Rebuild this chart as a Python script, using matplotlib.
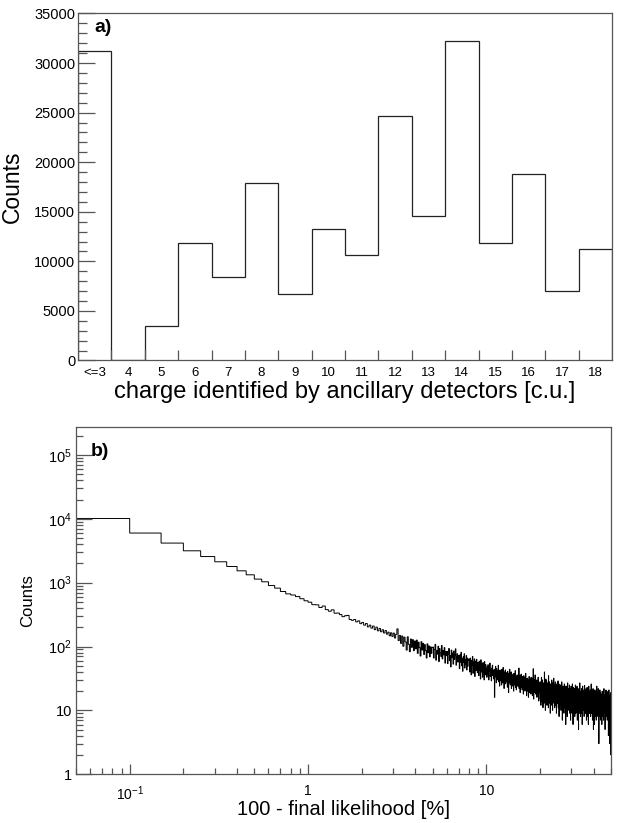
import numpy as np
import matplotlib
matplotlib.use("Agg")
import matplotlib.pyplot as plt
from matplotlib.ticker import FixedLocator, MultipleLocator, FuncFormatter, NullFormatter

plt.rcParams['font.family'] = ['Liberation Sans', 'DejaVu Sans']
plt.rcParams['mathtext.fontset'] = 'custom'
plt.rcParams['mathtext.rm'] = 'Liberation Sans'
plt.rcParams['mathtext.it'] = 'Liberation Sans:italic'
plt.rcParams['mathtext.bf'] = 'Liberation Sans:bold'

# ---------------- panel a data ----------------
charge_labels = ['<=3', '4', '5', '6', '7', '8', '9', '10', '11', '12',
                 '13', '14', '15', '16', '17', '18']
charge_counts = [31190, 0, 3480, 11820, 8390, 17870, 6680, 13230, 10610,
                 24690, 14580, 32230, 11880, 18810, 7040, 11280]

# ---------------- panel b data ----------------
lik_first_edge = 0.05
lik_bin_width = 0.05
lik_counts_0_1 = [10100, 5970, 4160, 3150, 2560, 2120, 1790, 1530, 1325, 1135,
                  1030, 900, 820, 726, 667, 640, 605, 560, 520]
lik_counts_1_2 = [494, 452, 449, 408, 430, 378, 357, 375, 332, 334,
                  316, 293, 303, 307, 265, 257, 265, 243, 252, 228]
lik_counts_2_3 = [238, 216, 229, 203, 216, 194, 209, 184, 201, 176,
                  192, 170, 183, 163, 178, 156, 168, 147, 164, 144]
lik_counts_3_5 = [162, 136, 155, 189, 124, 149, 112, 146, 101, 140,
                  118, 88, 142, 108, 83, 131, 97, 128, 86, 122,
                  92, 126, 78, 117, 96, 71, 119, 88, 112, 75,
                  107, 86, 66, 110, 80, 102, 69, 99, 78, 96]
lik_counts_5_10 = [98, 66, 90, 108, 61, 87, 76, 101, 58, 93, 80, 70, 104, 64, 86, 74, 96, 55, 84, 72,
                   84, 54, 75, 93, 60, 72, 48, 88, 67, 79, 53, 85, 63, 74, 92, 51, 69, 77, 57, 72,
                   71, 45, 74, 57, 81, 50, 65, 41, 69, 56, 77, 46, 63, 53, 72, 43, 66, 49, 60, 64,
                   60, 40, 66, 48, 36, 61, 51, 70, 38, 57, 45, 64, 34, 53, 59, 42, 63, 47, 39, 56,
                   53, 35, 59, 42, 49, 31, 62, 40, 53, 45, 33, 56, 39, 50, 30, 58, 43, 36, 52, 42]
lik_counts_10_20 = [45, 33, 48, 39, 52, 36, 30, 47, 41, 55, 34, 43, 38, 29, 46, 40, 51, 35, 42, 37,
                    31, 44, 16, 40, 36, 49, 33, 27, 45, 38, 30, 42, 35, 51, 28, 39, 34, 24, 43, 37,
                    29, 41, 36, 25, 44, 33, 38, 27, 47, 31, 35, 22, 40, 34, 30, 43, 26, 37, 32, 39,
                    28, 36, 23, 41, 31, 34, 19, 38, 30, 27, 44, 33, 25, 35, 29, 40, 22, 32, 37, 26,
                    31, 24, 35, 28, 20, 38, 27, 33, 25, 30, 42, 23, 29, 34, 21, 32, 27, 36, 24, 30,
                    26, 33, 24, 30, 46, 22, 31, 27, 35, 19, 28, 32, 25, 37, 23, 29, 26, 21, 34, 28,
                    24, 31, 18, 28, 35, 22, 27, 25, 33, 20, 29, 26, 38, 21, 24, 30, 17, 27, 32, 23,
                    27, 20, 30, 24, 16, 29, 23, 34, 21, 26, 19, 31, 25, 22, 28, 18, 33, 24, 21, 27,
                    22, 29, 17, 25, 32, 20, 45, 27, 15, 26, 23, 30, 19, 28, 21, 36, 23, 18, 25, 22,
                    26, 19, 23, 30, 16, 24, 21, 27, 18, 25, 33, 20, 22, 14, 28, 23, 19, 26, 21, 24]
lik_counts_20_35 = [23, 15, 28, 19, 12, 26, 21, 33, 17, 24, 14, 22, 30, 18, 25, 11, 20, 27, 16, 22,
                    18, 24, 13, 40, 20, 16, 27, 22, 10, 25, 19, 31, 15, 21, 17, 29, 23, 12, 26, 19,
                    21, 14, 27, 18, 24, 11, 35, 20, 16, 23, 19, 28, 13, 22, 17, 25, 9, 21, 26, 15,
                    19, 25, 12, 22, 16, 30, 18, 14, 24, 20, 10, 27, 17, 21, 13, 23, 19, 32, 15, 18,
                    16, 22, 19, 11, 25, 17, 14, 28, 20, 12, 23, 18, 15, 26, 9, 21, 17, 24, 13, 19,
                    20, 13, 24, 16, 29, 18, 11, 22, 15, 19, 26, 8, 17, 23, 14, 21, 18, 12, 25, 16,
                    14, 21, 17, 25, 10, 19, 16, 23, 13, 28, 18, 15, 20, 7, 22, 17, 12, 24, 16, 19,
                    18, 12, 22, 15, 9, 20, 17, 26, 14, 16, 21, 11, 19, 24, 13, 18, 15, 6, 23, 17,
                    13, 19, 16, 24, 11, 17, 14, 21, 8, 18, 15, 27, 12, 20, 16, 10, 22, 14, 19, 13,
                    17, 11, 20, 14, 25, 12, 16, 9, 19, 15, 22, 13, 18, 7, 21, 14, 16, 24, 10, 15,
                    12, 18, 15, 21, 9, 16, 13, 26, 14, 19, 11, 17, 6, 20, 15, 12, 23, 16, 10, 18,
                    16, 10, 19, 13, 22, 15, 8, 17, 14, 20, 12, 25, 11, 16, 18, 9, 21, 13, 15, 17,
                    14, 19, 11, 16, 24, 12, 15, 7, 18, 13, 20, 10, 17, 14, 22, 11, 16, 5, 19, 13,
                    15, 11, 18, 13, 21, 9, 16, 14, 27, 12, 17, 10, 19, 15, 8, 20, 13, 16, 11, 18,
                    12, 17, 14, 9, 22, 13, 16, 11, 19, 6, 15, 18, 12, 24, 14, 10, 17, 13, 20, 15]
lik_counts_35_50 = [16, 10, 19, 13, 11, 21, 14, 8, 17, 15, 12, 25, 13, 18, 9, 16, 14, 20, 11, 13,
                    14, 18, 9, 15, 12, 22, 13, 16, 7, 19, 11, 14, 17, 10, 23, 13, 15, 8, 18, 12,
                    11, 16, 13, 20, 10, 14, 6, 17, 12, 15, 24, 11, 13, 18, 9, 16, 14, 10, 19, 12,
                    15, 9, 18, 12, 14, 21, 10, 13, 16, 8, 19, 12, 15, 11, 26, 13, 9, 17, 14, 11,
                    13, 17, 10, 14, 20, 11, 15, 7, 16, 12, 18, 9, 14, 22, 11, 13, 16, 5, 15, 12,
                    10, 15, 13, 19, 9, 14, 12, 17, 6, 13, 16, 11, 21, 12, 8, 15, 14, 18, 10, 13,
                    14, 9, 16, 12, 20, 11, 13, 7, 15, 17, 10, 13, 24, 12, 9, 16, 11, 14, 19, 10,
                    12, 16, 10, 14, 8, 18, 13, 11, 15, 22, 9, 12, 16, 10, 14, 3, 17, 12, 13, 15,
                    9, 14, 12, 17, 11, 13, 21, 10, 15, 8, 12, 16, 11, 19, 13, 7, 14, 12, 10, 16,
                    13, 10, 15, 11, 18, 9, 12, 14, 6, 16, 11, 13, 20, 10, 15, 12, 8, 17, 11, 14,
                    11, 15, 9, 13, 12, 19, 10, 14, 7, 16, 12, 11, 22, 13, 9, 15, 10, 18, 12, 11,
                    14, 9, 12, 16, 10, 13, 5, 15, 11, 18, 12, 10, 14, 8, 17, 11, 13, 21, 10, 12,
                    10, 13, 17, 9, 12, 11, 15, 8, 14, 20, 11, 13, 7, 16, 10, 12, 18, 9, 14, 11,
                    12, 8, 15, 11, 19, 10, 13, 4, 14, 12, 16, 9, 11, 21, 13, 10, 15, 7, 12, 14,
                    11, 14, 9, 17, 12, 3, 13, 10, 16, 8, 12, 15, 11, 19, 10, 2, 13, 17, 9, 12]

lik_counts = np.array(lik_counts_0_1 + lik_counts_1_2 + lik_counts_2_3 + lik_counts_3_5
                      + lik_counts_5_10 + lik_counts_10_20 + lik_counts_20_35
                      + lik_counts_35_50, dtype=float)
lik_edges = lik_first_edge + lik_bin_width * np.arange(len(lik_counts) + 1)

AX_COLOR = '#555555'
LINE_COLOR = '#222222'

fig = plt.figure(figsize=(6.25, 8.23), dpi=100)
fig.patch.set_facecolor('white')

# ---------------- panel a ----------------
axa = fig.add_axes([0.1248, 0.5620, 0.8544, 0.4216])
edges_a = np.arange(len(charge_counts) + 1)
axa.stairs(charge_counts, edges_a, baseline=0, color=LINE_COLOR, lw=0.9)
axa.set_xlim(0, len(charge_counts))
axa.set_ylim(0, 35000)
axa.set_xticks(np.arange(len(charge_counts)) + 0.5)
axa.set_xticklabels(charge_labels)
axa.xaxis.set_minor_locator(FixedLocator(np.arange(1, len(charge_counts))))
axa.tick_params(axis='x', which='major', length=0, pad=5, labelsize=9.5)
axa.tick_params(axis='x', which='minor', length=7.2, direction='in', color=AX_COLOR, width=0.9)
axa.yaxis.set_major_locator(MultipleLocator(5000))
axa.yaxis.set_minor_locator(MultipleLocator(1000))
axa.tick_params(axis='y', which='major', length=12, direction='in', labelsize=10.5, pad=2,
                color=AX_COLOR, width=0.9)
axa.tick_params(axis='y', which='minor', length=6.5, direction='in', color=AX_COLOR, width=0.9)
axa.set_xlabel('charge identified by ancillary detectors [c.u.]', fontsize=17, va='top')
axa.xaxis.set_label_coords(0.5, -0.058)
axa.set_ylabel('Counts', fontsize=16.5)
axa.yaxis.set_label_coords(-0.102, 0.5)
axa.text(0.03, 0.96, 'a)', transform=axa.transAxes, fontsize=14, fontweight='bold',
         ha='left', va='center')
for s in axa.spines.values():
    s.set_color(AX_COLOR)
    s.set_linewidth(0.9)

# ---------------- panel b ----------------
axb = fig.add_axes([0.1216, 0.0592, 0.856, 0.4216])
axb.stairs(lik_counts, lik_edges, baseline=None, color='black', lw=0.7)
axb.set_xscale('log')
axb.set_yscale('log')
axb.set_xlim(0.05, 50)
axb.set_ylim(1, 2.7e5)


def log_label(v, pos):
    if v <= 0:
        return ''
    e = int(round(np.log10(v)))
    if e == 0:
        return '1'
    if e == 1:
        return '10'
    return r'$10^{%d}$' % e


axb.xaxis.set_major_locator(FixedLocator([0.1, 1, 10]))
axb.xaxis.set_major_formatter(FuncFormatter(log_label))
xminor = [m * 10.0 ** d for d in (-2, -1, 0, 1) for m in range(2, 10)]
axb.xaxis.set_minor_locator(FixedLocator(xminor))
axb.xaxis.set_minor_formatter(NullFormatter())
axb.yaxis.set_major_locator(FixedLocator([1, 10, 100, 1e3, 1e4, 1e5]))
axb.yaxis.set_major_formatter(FuncFormatter(log_label))
yminor = [m * 10.0 ** d for d in range(0, 6) for m in range(2, 10)]
axb.yaxis.set_minor_locator(FixedLocator(yminor))
axb.yaxis.set_minor_formatter(NullFormatter())
axb.tick_params(axis='x', which='major', length=7.2, direction='in', labelsize=10, pad=7,
                color=AX_COLOR, width=0.9)
axb.tick_params(axis='x', which='minor', length=4, direction='in', color=AX_COLOR, width=0.9)
axb.tick_params(axis='y', which='major', length=11.5, direction='in', labelsize=10.5, pad=3,
                color=AX_COLOR, width=0.9)
axb.tick_params(axis='y', which='minor', length=5, direction='in', color=AX_COLOR, width=0.9)
axb.set_xlabel('100 - final likelihood [%]', fontsize=14.5, va='top')
axb.xaxis.set_label_coords(0.5, -0.074)
axb.set_ylabel('Counts', fontsize=12)
axb.yaxis.set_label_coords(-0.077, 0.5)
axb.text(0.0275, 0.929, 'b)', transform=axb.transAxes, fontsize=14, fontweight='bold',
         ha='left', va='center')
for s in axb.spines.values():
    s.set_color(AX_COLOR)
    s.set_linewidth(0.9)

fig.savefig('out.png', dpi=100, facecolor='white')
